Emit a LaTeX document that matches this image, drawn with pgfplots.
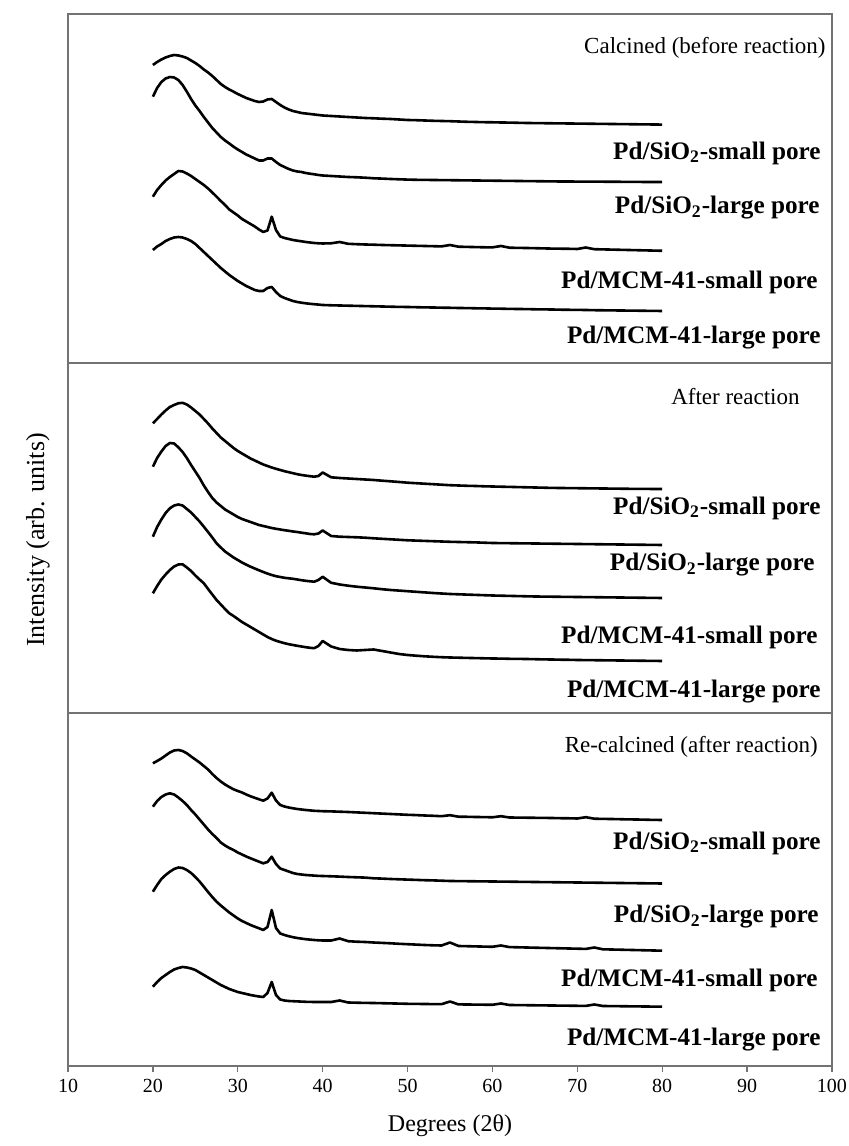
\documentclass[border=0pt]{standalone}
\usepackage{fontspec}
\setmainfont{Liberation Serif}
\usepackage{pgfplots}
\usepackage{pgfplotstable}
\pgfplotsset{compat=1.18}

% Panel 1: calcined (before reaction); intensities with vertical offsets
\pgfplotstableread{
x c1 c2 c3 c4
20 298 266.3 166.3 113
20.5 301 275 173 116.5
21 303.5 281 178 119
21.5 305.5 284.5 182.5 122
22 307 286 186 124
22.5 308 285.5 189 125.5
23 307.5 283 192 126
23.5 306.5 278 191.5 125.5
24 305 271.3 189.5 124
24.5 302.5 264 187 122
25 300 257.5 184 119
25.5 297 252 181 115
26 293.5 246 178 111
26.5 290.5 240.5 174.5 107
27 287 235 170.5 103
27.5 283 230.5 166.3 99
28 279 226 162 95
28.5 276 222.5 158 91.5
29 273.5 219.5 153.5 88
29.5 271.3 216.3 150.5 85
30 269 213.5 147.5 82
30.5 267 211 144 79.5
31 265 208.5 141.5 77
31.5 263.5 206.5 139 75
32 262 204.5 136.5 73
32.5 261 202.5 133.5 72
33 261.5 202.5 131 72
33.5 263.5 204.5 132.5 75
34 264 204.5 146.3 76
34.5 261 201 133 71
35 258 198 126.5 67
35.5 255.5 196 125 65
36 253.5 194 124 63.5
36.5 252 192.5 123 62
37 251 191.5 122.3 61
37.5 250 191 121.7 60.3
38 249.5 190 121 59.7
38.5 249 189.3 120.5 59.2
39 248.5 188.7 120 58.8
39.5 248 188 119.7 58.4
40 247.5 187.5 119.5 58
41 247 187 119.7 57.7
42 246.5 186.5 121 57.5
43 246 186 119.2 57.3
44 245.5 185.7 118.8 57.1
45 245 185.3 118.5 56.9
46 244.7 184.7 118.3 56.7
47 244.3 184.4 118 56.5
48 244 184 117.8 56.3
49 243.5 183.7 117.6 56.1
50 243 183.4 117.4 56
51 242.8 183.2 117.2 55.8
52 242.5 183.1 117 55.6
53 242.2 183 116.8 55.5
54 242 182.9 116.6 55.3
55 241.8 182.8 118 55.2
56 241.5 182.7 116.3 55
57 241.2 182.6 116.1 54.9
58 241 182.5 115.9 54.7
59 240.8 182.4 115.7 54.6
60 240.7 182.3 115.6 54.4
61 240.5 182.2 117 54.3
62 240.4 182.1 115.3 54.1
63 240.2 182 115.1 54
64 240 181.9 115 53.9
65 239.9 181.8 114.8 53.7
66 239.8 181.7 114.6 53.6
67 239.7 181.6 114.4 53.5
68 239.6 181.5 114.3 53.3
69 239.5 181.5 114.2 53.2
70 239.4 181.4 114 53.1
71 239.3 181.4 115.5 53
72 239.2 181.3 113.8 52.8
73 239.1 181.3 113.6 52.7
74 239 181.2 113.4 52.6
75 238.9 181.2 113.2 52.5
76 238.8 181.1 113 52.4
77 238.7 181.1 112.8 52.3
78 238.6 181 112.6 52.2
79 238.5 181 112.4 52.1
80 238.4 181 112.2 52
}\tabA

% Panel 2: after reaction
\pgfplotstableread{
x c1 c2 c3 c4
20 289.7 246.3 176.3 119.7
20.5 294 255 186 127
21 298.5 261.5 193.5 133.5
21.5 302.5 267 200 138.5
22 306 270 204.7 143
22.5 308 269.5 207.5 146.5
23 309.7 265.7 208.5 148.5
23.5 310.2 261 207.5 148.7
24 308.5 255 204 145.5
24.5 305.5 248 200.5 142
25 302 241.5 196 137.5
25.5 298.5 235 191.5 133.5
26 294 227.5 186.3 129.7
26.5 289.5 221 181 124
27 284.5 215 175.5 118.5
27.5 280 210.5 169.7 113
28 275.5 207 165.5 108.5
28.5 272 203.5 161.5 104
29 268.5 201 158.5 99.7
29.5 265 198.5 155.5 97
30 262 196 153 94
30.5 259.5 194 150.5 91
31 257 192.5 148.3 88.5
31.5 254.5 191 146.3 86
32 252.5 189.5 144.5 83.5
32.5 250.5 188 142.7 81
33 248.5 187 141 78.5
33.5 247 186 139.4 76
34 245.5 185 138 74
34.5 244.2 184.2 136.8 72.3
35 243 183.5 136 71
35.5 241.8 182.8 135.2 69.8
36 240.8 182.2 134.7 68.8
36.5 239.8 181.5 134.2 68
37 238.8 181 133.5 67.2
37.5 238 180.3 132.8 66.5
38 237.4 179.7 132.2 65.8
38.5 236.8 179 131.7 65.2
39 236.3 178.7 131.3 64.8
39.5 237 179.5 133 67
40 240.5 182.5 136.2 72
41 235.7 177 130.2 66.5
42 235 176.3 128.5 64
43 234.5 176 127.3 63
44 234 175.7 126.3 62.5
45 233.5 175.3 125.5 63
46 233 174.7 124.7 63.5
47 232.3 174.2 123.8 62
48 231.7 173.7 123 60.5
49 231 173.2 122.4 59
50 230.3 172.7 121.8 58
51 229.8 172.4 121.2 57.3
52 229.3 172.1 120.6 56.7
53 228.8 171.8 120 56.2
54 228.3 171.5 119.5 55.8
55 227.8 171.2 119 55.5
56 227.5 171 118.7 55.3
57 227.2 170.8 118.4 55.1
58 227 170.6 118.1 54.9
59 226.7 170.3 117.8 54.7
60 226.5 170 117.5 54.5
61 226.3 169.9 117.3 54.4
62 226.1 169.8 117.1 54.2
63 225.9 169.7 116.9 54.1
64 225.7 169.6 116.7 54
65 225.5 169.5 116.5 53.8
66 225.3 169.4 116.4 53.6
67 225.1 169.3 116.3 53.5
68 225 169.2 116.2 53.3
69 224.9 169.1 116.1 53.2
70 224.8 169 116 53
71 224.7 168.9 115.9 52.9
72 224.6 168.8 115.8 52.8
73 224.5 168.7 115.7 52.7
74 224.4 168.6 115.6 52.6
75 224.3 168.5 115.5 52.5
76 224.2 168.4 115.4 52.4
77 224.1 168.3 115.3 52.3
78 224.1 168.2 115.2 52.2
79 224 168.1 115.1 52.1
80 224 168 115 52
}\tabB

% Panel 3: re-calcined (after reaction)
\pgfplotstableread{
x c1 c2 c3 c4
20 302.7 259.3 174.3 79.3
20.5 305 265 181 84
21 307.5 269 187 88
21.5 310.5 271.5 191 91
22 313.5 272.7 194.3 94
22.5 315.5 271.5 197 96.5
23 316 268.5 198.5 98
23.5 315 265 198 99
24 312.7 261 196 98.5
24.5 309.5 256 193 97.5
25 306.5 251.5 189 96
25.5 303.5 246.5 184.5 93.5
26 300 241.5 179.3 91
26.5 296.5 236.5 174 88.5
27 292 232 169 86
27.5 288 228 164.3 83.5
28 284.5 223.5 160.5 81
28.5 281.5 220.5 157 79
29 279 218 153.5 77
29.5 276.7 216 150.5 75.5
30 275 213.5 147.5 74
30.5 273.5 211.5 145 73
31 271.5 209.5 143 72
31.5 269.7 207.7 141 71
32 268.2 206 139.3 70.2
32.5 266.7 204.3 137.7 69.5
33 265.3 202.7 136 69
33.5 267.5 204 139 73
34 273.3 209.3 156 84
34.5 265.5 202 138 71
35 261 197.5 132.5 66.5
35.5 259.5 196 131 65.5
36 258.5 194.5 129.8 65
36.5 257.7 193 128.8 64.8
37 257 192 128 64.6
37.5 256.5 191.5 127.4 64.4
38 256 191 126.8 64.2
38.5 255.6 190.7 126.4 64.1
39 255.2 190.4 126 64
39.5 255 190.1 125.7 64
40 254.8 190 125.5 64
41 254.6 189.7 125.5 64
42 254.3 189.4 127.5 65.5
43 254 189 124.8 63.5
44 253.6 188.7 124.3 63.3
45 253.2 188.4 124 63.1
46 252.8 187.7 123.5 63
47 252.4 187.4 123.1 62.8
48 252 187 122.7 62.6
49 251.6 186.7 122.2 62.4
50 251.2 186.4 121.8 62.2
51 250.9 186.1 121.4 62.1
52 250.5 185.8 121 62
53 250.2 185.6 120.7 61.9
54 249.8 185.3 120.5 61.8
55 250.8 185 123.5 64.5
56 249.3 184.9 120 61.6
57 249.2 184.8 119.8 61.5
58 249 184.7 119.6 61.4
59 248.9 184.6 119.4 61.3
60 248.7 184.5 119.2 61.2
61 249.8 184.4 120.5 62.5
62 248.5 184.3 118.9 61
63 248.4 184.2 118.7 60.9
64 248.3 184.1 118.5 60.8
65 248.2 184 118.3 60.7
66 248.1 183.9 118.1 60.6
67 248 183.8 117.9 60.5
68 247.8 183.7 117.7 60.4
69 247.7 183.6 117.5 60.3
70 247.5 183.5 117.3 60.2
71 248.8 183.4 117.1 60.1
72 247.3 183.3 118.5 61.5
73 247.1 183.2 116.7 60
74 247 183.1 116.5 59.9
75 246.8 183 116.3 59.8
76 246.6 182.9 116.1 59.7
77 246.5 182.8 115.9 59.6
78 246.3 182.7 115.7 59.5
79 246.1 182.6 115.5 59.4
80 246 182.5 115.3 59.3
}\tabC

\pgfplotsset{
  panel/.style={
    scale only axis, width=382pt, anchor=south west,
    xmin=10, xmax=100, ymin=0,
    ytick=\empty,
    axis line style={draw=black!55, line width=0.7pt},
  },
  xrd/.style={black, line width=1.3pt, line join=round},
}

\begin{document}
\begin{tikzpicture}
\path[use as bounding box] (0,0) rectangle (424pt,573pt);

\begin{axis}[panel, at={(34pt,391.5pt)}, height=174.5pt, ymax=349, xtick=\empty]
\addplot[xrd] table[x=x,y=c1]{\tabA};
\addplot[xrd] table[x=x,y=c2]{\tabA};
\addplot[xrd] table[x=x,y=c3]{\tabA};
\addplot[xrd] table[x=x,y=c4]{\tabA};
\end{axis}

\begin{axis}[panel, at={(34pt,216.5pt)}, height=175pt, ymax=350, xtick=\empty]
\addplot[xrd] table[x=x,y=c1]{\tabB};
\addplot[xrd] table[x=x,y=c2]{\tabB};
\addplot[xrd] table[x=x,y=c3]{\tabB};
\addplot[xrd] table[x=x,y=c4]{\tabB};
\end{axis}

\begin{axis}[panel, at={(34pt,40pt)}, height=176.5pt, ymax=353,
  xtick={10,20,...,100}, xtick pos=bottom, tick align=outside,
  major tick length=3pt,
  tick style={draw=black!55, line width=0.7pt},
  xticklabel style={font=\fontsize{10}{12}\selectfont, /pgf/number format/assume math mode=true}]
\addplot[xrd] table[x=x,y=c1]{\tabC};
\addplot[xrd] table[x=x,y=c2]{\tabC};
\addplot[xrd] table[x=x,y=c3]{\tabC};
\addplot[xrd] table[x=x,y=c4]{\tabC};
\end{axis}

% panel titles
\begin{scope}[every node/.style={anchor=east, inner sep=0pt, font=\fontsize{11.5}{13}\selectfont}]
\node at (413pt,549pt) {Calcined (before reaction)};
\node at (400pt,374.5pt) {After reaction};
\node at (409pt,199.5pt) {Re-calcined (after reaction)};
\end{scope}

% sample labels
\begin{scope}[every node/.style={anchor=east, inner sep=0pt, font=\fontsize{12.6}{14}\selectfont\bfseries}]
\node at (410.5pt,496.5pt) {Pd/SiO\textsubscript{2}-small pore};
\node at (410pt,469pt) {Pd/SiO\textsubscript{2}-large pore};
\node at (409pt,432pt) {Pd/MCM-41-small pore};
\node at (410.5pt,404pt) {Pd/MCM-41-large pore};
\node at (410.5pt,319pt) {Pd/SiO\textsubscript{2}-small pore};
\node at (407.5pt,290.5pt) {Pd/SiO\textsubscript{2}-large pore};
\node at (409pt,254.5pt) {Pd/MCM-41-small pore};
\node at (410.5pt,227pt) {Pd/MCM-41-large pore};
\node at (410.5pt,151.5pt) {Pd/SiO\textsubscript{2}-small pore};
\node at (409.5pt,114.5pt) {Pd/SiO\textsubscript{2}-large pore};
\node at (409pt,83pt) {Pd/MCM-41-small pore};
\node at (410.5pt,53pt) {Pd/MCM-41-large pore};
\end{scope}

% axis titles
\node[rotate=90, font=\fontsize{13}{15}\selectfont] at (19pt,303pt) {Intensity (arb. units)};
\node[font=\fontsize{12}{14}\selectfont] at (225pt,10pt) {Degrees (2θ)};
\end{tikzpicture}
\end{document}
